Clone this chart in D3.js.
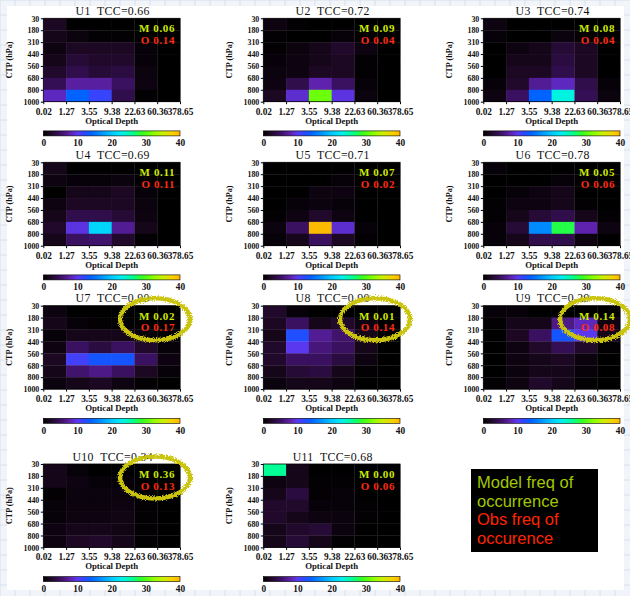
<!DOCTYPE html>
<html>
<head>
<meta charset="utf-8">
<script src="https://cdn.jsdelivr.net/npm/d3@7"></script>
<style>
  body { margin: 0; background: #fff; }
  svg { display: block; }
</style>
</head>
<body>
<svg id="chart" width="630" height="596"></svg>
<script>
// Bin edges of the ISCCP-style joint histograms
const odEdges = ["0.02", "1.27", "3.55", "9.38", "22.63", "60.36", "378.65"];
const ctpEdges = ["30", "180", "310", "440", "560", "680", "800", "1000"];
const cbTicks = [0, 10, 20, 30, 40];

// Regime names, total cloud cover and model / observed frequency of occurrence
const regimes = ["U1", "U2", "U3", "U4", "U5", "U6", "U7", "U8", "U9", "U10", "U11"];
const tccText = ["0.66", "0.72", "0.74", "0.69", "0.71", "0.78", "0.90", "0.90", "0.29", "0.34", "0.68"];
const modelFreq = ["0.06", "0.09", "0.08", "0.11", "0.07", "0.05", "0.02", "0.01", "0.14", "0.36", "0.00"];
const obsFreq = ["0.14", "0.04", "0.04", "0.11", "0.02", "0.06", "0.17", "0.14", "0.08", "0.13", "0.06"];
const circled = [false, false, false, false, false, false, true, true, true, true, false];

// Cloud fraction (%) per bin: rows from 30-180 hPa down to 800-1000 hPa,
// columns from the thinnest to the thickest optical depth bin
const u1 = [
  [2, 0, 0, 0, 0, 0],
  [1.5, 0.8, 0.3, 0.3, 0, 0],
  [1, 2, 2, 2, 0.5, 0],
  [1.5, 3, 2.5, 2.5, 0.5, 0],
  [2.5, 4, 3, 3.5, 0.8, 0],
  [4.5, 7.5, 7.5, 5, 1, 0],
  [8.5, 14, 11.5, 4, 0.3, 0]
];
const u2 = [
  [1, 0.3, 0, 0, 0, 0],
  [0.3, 0, 0, 0.5, 0.3, 0],
  [0.3, 0.8, 1.5, 2.5, 1, 0],
  [0.5, 1, 1.5, 2, 0.3, 0],
  [0.8, 1, 2, 2, 0.3, 0],
  [1, 4, 8, 5, 0.5, 0],
  [2, 9, 31, 9.5, 0.8, 0]
];
const u3 = [
  [1, 0, 0, 0, 0, 0],
  [0.5, 0, 0, 0.8, 0.3, 0],
  [0, 1, 1.5, 3, 2, 0],
  [0, 1.5, 1.5, 3.5, 2, 0],
  [0, 2, 2, 4, 2, 0],
  [0.5, 2.5, 7, 8.5, 4, 0.5],
  [1, 5, 14, 23.5, 4.5, 0.8]
];
const u4 = [
  [1.5, 0, 0, 0, 0, 0],
  [1, 0.5, 0.5, 0.8, 0.3, 0],
  [0, 1.5, 1.5, 2, 0.5, 0],
  [1, 2, 2, 2, 0.8, 0],
  [1.5, 4, 4, 3, 1, 0],
  [2.5, 9.5, 21, 7, 1.5, 0],
  [1.5, 5, 5.5, 2.5, 0.3, 0]
];
const u5 = [
  [0, 0, 0, 0, 0, 0],
  [0, 0, 0, 0.5, 0, 0],
  [0, 0, 1, 1, 0, 0],
  [0, 0.5, 0.8, 0.5, 0, 0],
  [0.3, 1, 2.5, 1, 0, 0],
  [0.8, 5, 39.5, 9, 0.5, 0],
  [0.5, 1.5, 5, 2, 0.3, 0]
];
const u6 = [
  [0.5, 0, 0, 0, 0, 0],
  [0, 0, 0, 0.5, 0, 0],
  [0, 0.5, 1, 1.5, 0, 0],
  [0.3, 1, 1, 1.5, 0.3, 0],
  [0.3, 1.5, 3, 4, 1.5, 0.3],
  [0.5, 3, 16.5, 28, 8, 1],
  [0.5, 1.5, 4, 4, 1, 0]
];
const u7 = [
  [1, 0, 0, 0, 0, 0],
  [1.5, 0.5, 0.3, 0.3, 0, 0],
  [0.5, 1.5, 1.5, 1.5, 0.5, 0],
  [1, 5, 3.5, 5, 2.5, 0.5],
  [2, 11, 13, 13, 5, 1],
  [1.5, 5.5, 6.5, 5, 2, 0.5],
  [0.8, 1.5, 2, 1, 0.3, 0]
];
const u8 = [
  [2.5, 0.5, 0, 0, 0, 0],
  [2, 5, 1.5, 2.5, 1, 0],
  [1.5, 12.5, 7, 5.5, 1.5, 0],
  [2.5, 10, 6, 5, 1.5, 0],
  [2.5, 5, 5, 3.5, 1, 0],
  [1.5, 3, 3.5, 1.5, 0.3, 0],
  [0.8, 1.5, 1.5, 1, 0, 0]
];
const u9 = [
  [0.5, 0.5, 0, 0, 0, 0],
  [0.3, 1.5, 1.5, 6.5, 8.5, 1],
  [0, 2, 5, 13, 10, 1.5],
  [0, 1, 2.5, 4.5, 2.5, 0.3],
  [0, 1, 1.5, 2, 0.8, 0],
  [0, 0.8, 1.5, 1.5, 0.5, 0],
  [0.3, 1, 2.5, 1.5, 0.3, 0]
];
const u10 = [
  [1.5, 0.5, 0, 0, 0, 0],
  [1.5, 1, 0.5, 0.5, 0, 0],
  [0.3, 0.8, 0.8, 0.8, 0.3, 0],
  [0.5, 0.8, 0.8, 1, 0.3, 0],
  [0.5, 1, 1, 1.2, 0.3, 0],
  [1, 1.5, 1.5, 1.2, 0.3, 0],
  [1, 2, 2.5, 1.5, 0.3, 0]
];
const u11 = [
  [26, 1.5, 0, 0, 0, 0],
  [1, 1.5, 0.3, 0.3, 0, 0],
  [1.5, 3.5, 0.3, 0.5, 0, 0],
  [2.5, 2.5, 0.5, 0.5, 0.3, 0],
  [2.5, 1.5, 1, 0.8, 0.3, 0],
  [1.5, 2.5, 3, 0.8, 0, 0],
  [1.5, 3, 1.5, 0.3, 0, 0]
];
const histograms = [u1, u2, u3, u4, u5, u6, u7, u8, u9, u10, u11];

const legendModel = ["Model freq of", "occurrence"];
const legendObs = ["Obs freq of", "occurence"];

// ---------------------------------------------------------------------------
const svg = d3.select("#chart");
const W = 630, H = 596;

// colour table: black through violet, blue, cyan, green to yellow-orange
const color = d3.scaleLinear()
  .domain([0, 2, 5, 8, 10, 12, 14, 17, 20, 23, 26, 29, 32, 35, 38, 40])
  .range(["#000000", "#1c0822", "#3a1060", "#5e22ae", "#5a38f0", "#2a48ff", "#0062ff",
          "#0092ff", "#00c8ff", "#00f0f0", "#00ff96", "#34ff1e", "#86ff00", "#ccf000",
          "#f8d000", "#ffb400"])
  .clamp(true);

const defs = svg.append("defs");
const grad = defs.append("linearGradient").attr("id", "cbar")
  .attr("x1", "0%").attr("x2", "100%").attr("y1", "0%").attr("y2", "0%");
d3.range(0, 40.01, 1).forEach(v => {
  grad.append("stop").attr("offset", (v / 40 * 100) + "%").attr("stop-color", color(v));
});

const rough = defs.append("filter").attr("id", "rough")
  .attr("x", "-20%").attr("y", "-30%").attr("width", "140%").attr("height", "160%");
rough.append("feTurbulence").attr("type", "fractalNoise").attr("baseFrequency", 0.9)
  .attr("numOctaves", 2).attr("seed", 4).attr("result", "noise");
rough.append("feDisplacementMap").attr("in", "SourceGraphic").attr("in2", "noise")
  .attr("scale", 5).attr("xChannelSelector", "R").attr("yChannelSelector", "G");

// graph-paper backdrop
const bg = svg.append("g");
bg.append("rect").attr("width", W).attr("height", H).attr("fill", "#f1f5fa");
d3.range(0, W, 15).forEach(x => bg.append("line").attr("x1", x).attr("x2", x)
  .attr("y1", 0).attr("y2", H).attr("stroke", "#d5e0ec").attr("stroke-width", 1));
d3.range(0, H, 15).forEach(y => bg.append("line").attr("x1", 0).attr("x2", W)
  .attr("y1", y).attr("y2", y).attr("stroke", "#d5e0ec").attr("stroke-width", 1));
bg.append("rect").attr("x", 7).attr("y", 6).attr("width", 617).attr("height", 584)
  .attr("fill", "#ffffff");

// panel layout
const colX = [43.3, 263.3, 483.3];
const rowY = [18.3, 162.3, 305.7, 464];
const pw = 136.7, ph = 83.4;

const serif = "'Liberation Serif', 'Times New Roman', serif";

histograms.forEach((grid, i) => {
  const x0 = colX[i % 3], y0 = rowY[Math.floor(i / 3)];
  const g = svg.append("g");

  const x = d3.scaleLinear().domain([0, odEdges.length - 1]).range([x0, x0 + pw]);
  const y = d3.scaleLinear().domain([0, ctpEdges.length - 1]).range([y0, y0 + ph]);

  // cells
  const cells = [];
  grid.forEach((row, r) => row.forEach((v, c) => cells.push({ r, c, v })));
  g.selectAll("rect.cell").data(cells).join("rect")
    .attr("class", "cell")
    .attr("x", d => x(d.c)).attr("y", d => y(d.r))
    .attr("width", d => x(d.c + 1) - x(d.c) + 0.3)
    .attr("height", d => y(d.r + 1) - y(d.r) + 0.3)
    .attr("fill", d => color(d.v));

  g.append("rect").attr("x", x0).attr("y", y0).attr("width", pw).attr("height", ph)
    .attr("fill", "none").attr("stroke", "#000").attr("stroke-width", 0.8);

  // axes
  const xAxis = d3.axisBottom(x).tickValues(d3.range(odEdges.length))
    .tickFormat(k => odEdges[k]).tickSize(2.5).tickSizeOuter(0);
  const xa = g.append("g").attr("transform", `translate(0,${y0 + ph})`).call(xAxis);
  xa.select(".domain").remove();
  xa.selectAll("text").attr("dy", 0).attr("y", 13)
    .style("font-family", serif).style("font-size", "9.3px").style("font-weight", "bold")
    .attr("fill", "#111");

  const yAxis = d3.axisLeft(y).tickValues(d3.range(ctpEdges.length))
    .tickFormat(k => ctpEdges[k]).tickSize(2.5).tickSizeOuter(0);
  const ya = g.append("g").attr("transform", `translate(${x0},0)`).call(yAxis);
  ya.select(".domain").remove();
  ya.selectAll("text").attr("x", -4).attr("dy", "0.35em")
    .style("font-family", serif).style("font-size", "7.9px").style("font-weight", "bold")
    .attr("fill", "#111");

  g.append("text").attr("x", x0 + pw / 2).attr("y", y0 + ph + 22)
    .attr("text-anchor", "middle").style("font-family", serif).style("font-size", "8.8px")
    .style("font-weight", "bold").attr("fill", "#111").text("Optical Depth");

  g.append("text")
    .attr("transform", `translate(${x0 - 31},${y0 + ph / 2}) rotate(-90)`)
    .attr("text-anchor", "middle").style("font-family", serif).style("font-size", "8.2px")
    .style("font-weight", "bold").attr("fill", "#111").text("CTP (hPa)");

  // title
  g.append("text").attr("x", x0 + pw / 2 + 1).attr("y", y0 - 3.5)
    .attr("text-anchor", "middle").style("font-family", serif).style("font-size", "11.8px")
    .style("letter-spacing", "0.3px")
    .attr("fill", "#111").text(`${regimes[i]}\u00a0\u00a0TCC=${tccText[i]}`);

  // frequency of occurrence
  g.append("text").attr("x", x0 + pw - 5).attr("y", y0 + 14)
    .attr("text-anchor", "end").style("font-family", serif).style("font-size", "11px")
    .style("font-weight", "bold").style("letter-spacing", "0.6px")
    .attr("fill", "#cdea00").text(`M\u00a00.${modelFreq[i].slice(2)}`);
  g.append("text").attr("x", x0 + pw - 5).attr("y", y0 + 25.5)
    .attr("text-anchor", "end").style("font-family", serif).style("font-size", "11px")
    .style("font-weight", "bold").style("letter-spacing", "0.6px")
    .attr("fill", "#ff2a10").text(`O\u00a00.${obsFreq[i].slice(2)}`);

  // colour bar
  const cb = d3.scaleLinear().domain([0, 40]).range([x0, x0 + pw]);
  const cy = y0 + 112.6;
  g.append("rect").attr("x", x0).attr("y", cy).attr("width", pw).attr("height", 5)
    .attr("fill", "url(#cbar)").attr("stroke", "#000").attr("stroke-width", 0.6);
  const cba = g.append("g").attr("transform", `translate(0,${cy + 5})`)
    .call(d3.axisBottom(cb).tickValues(cbTicks).tickSize(0));
  cba.select(".domain").remove();
  cba.selectAll("text").attr("dy", 0).attr("y", 10.5)
    .style("font-family", serif).style("font-size", "9.3px").style("font-weight", "bold")
    .attr("fill", "#111");

  // highlight ring
  if (circled[i]) {
    svg.append("ellipse").attr("cx", x0 + pw - 25).attr("cy", y0 + 13.5)
      .attr("rx", 35).attr("ry", 21)
      .attr("fill", "none").attr("stroke", "#cbc40e").attr("stroke-width", 4.5)
      .attr("filter", "url(#rough)");
  }
});

// key box
const key = svg.append("g");
key.append("rect").attr("x", 471).attr("y", 469).attr("width", 127).attr("height", 83)
  .attr("fill", "#000");
const sans = "'Liberation Sans', Arial, sans-serif";
legendModel.concat(legendObs).forEach((t, k) => {
  key.append("text").attr("x", 477).attr("y", 488 + k * 18.7)
    .style("font-family", sans).style("font-size", "16.5px")
    .attr("fill", k < 2 ? "#a2c800" : "#ff2400").text(t);
});
</script>
</body>
</html>
